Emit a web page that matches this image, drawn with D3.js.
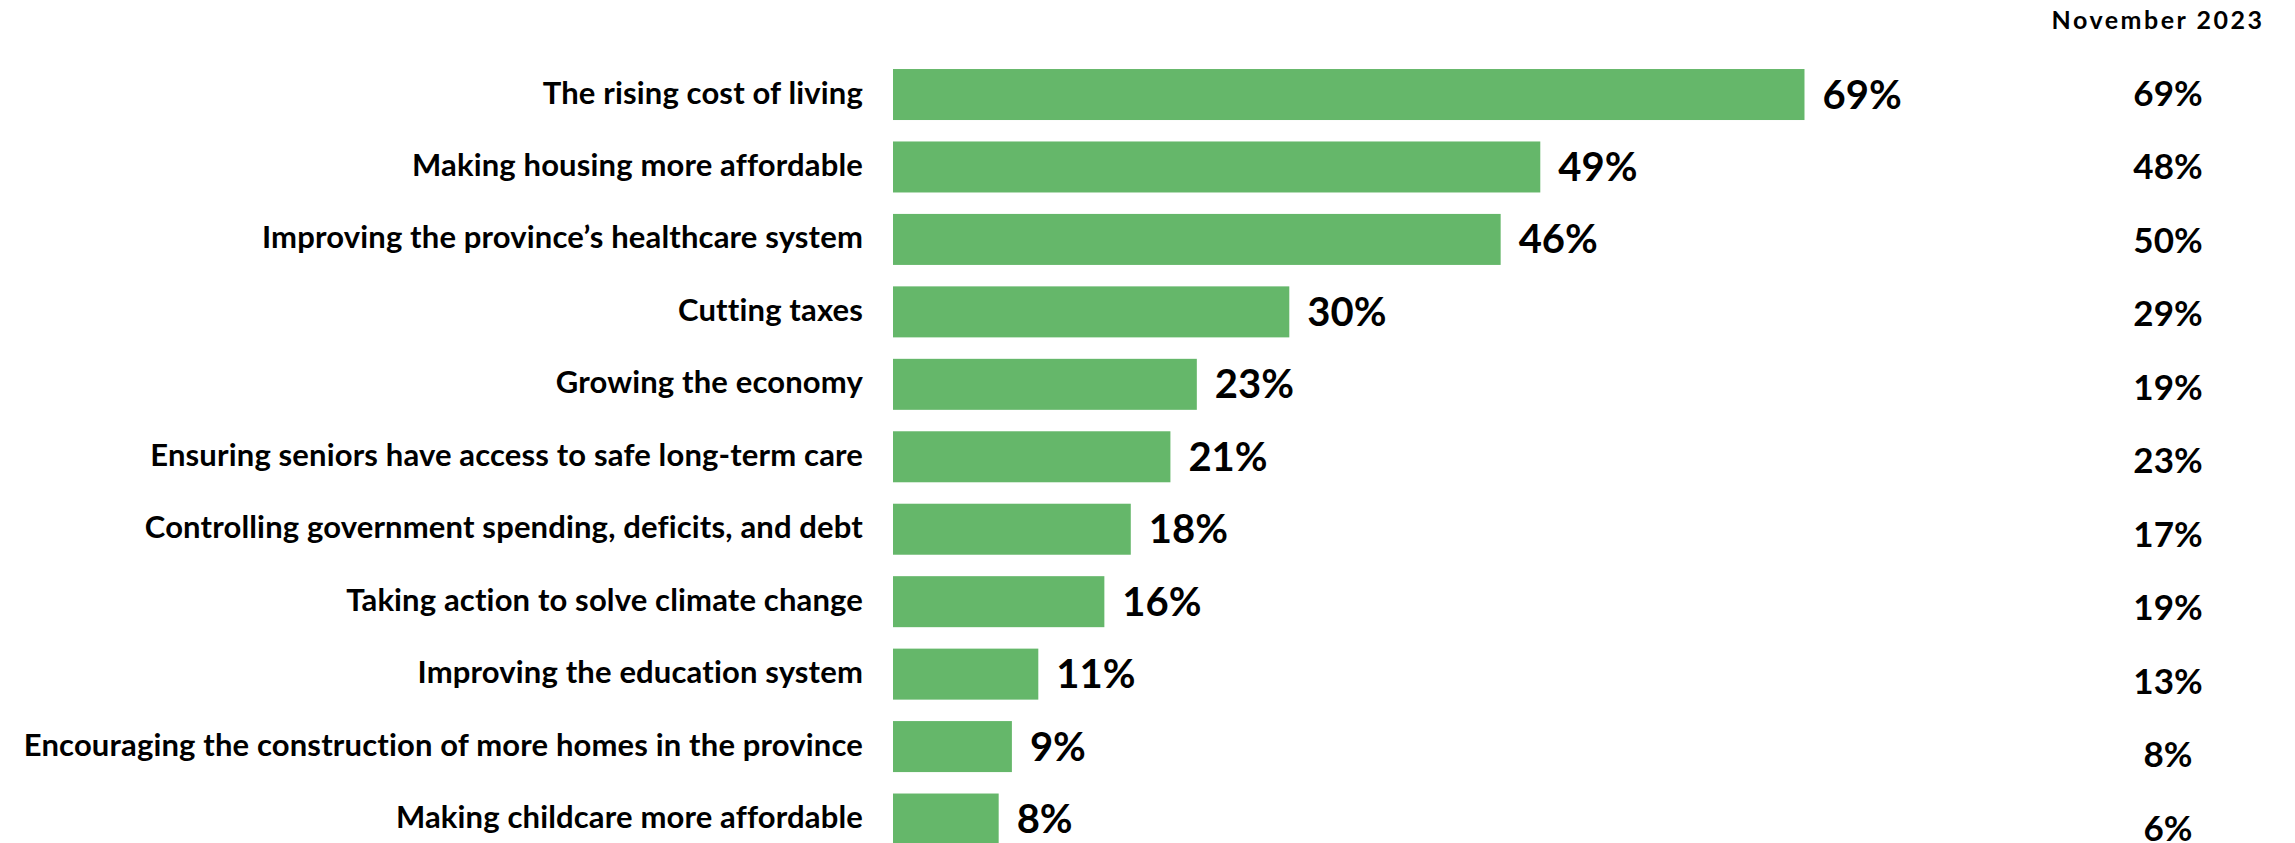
<!DOCTYPE html>
<html>
<head>
<meta charset="utf-8">
<script src="https://cdn.jsdelivr.net/npm/d3@7"></script>
<style>
  html, body { margin: 0; padding: 0; background: #ffffff; }
  svg { display: block; }
  text { font-family: Lato, "Open Sans", sans-serif; font-weight: 700; fill: #000; }
</style>
</head>
<body>
<svg id="chart" width="2295" height="843"></svg>
<script>
// Top provincial priorities: current share and November 2023 comparison
const categories = [
  "The rising cost of living",
  "Making housing more affordable",
  "Improving the province\u2019s healthcare system",
  "Cutting taxes",
  "Growing the economy",
  "Ensuring seniors have access to safe long-term care",
  "Controlling government spending, deficits, and debt",
  "Taking action to solve climate change",
  "Improving the education system",
  "Encouraging the construction of more homes in the province",
  "Making childcare more affordable"
];
const currentValues = [69, 49, 46, 30, 23, 21, 18, 16, 11, 9, 8];
const nov2023Values = [69, 48, 50, 29, 19, 23, 17, 19, 13, 8, 6];
const comparisonHeader = "November 2023";

const rows = categories.map((c, i) => ({ name: c, now: currentValues[i], prev: nov2023Values[i] }));

const svg = d3.select("#chart");

const barLeft = 893;
const x = d3.scaleLinear().domain([0, 100]).range([barLeft, barLeft + 1321]);

const step = 72.45;
const pad = 0.296;
const y = d3.scaleBand()
  .domain(categories)
  .range([58.3, 58.3 + step * categories.length])
  .paddingInner(pad)
  .paddingOuter(pad / 2);

const yRight = d3.scalePoint()
  .domain(categories)
  .range([93.4, 93.4 + 73.5 * (categories.length - 1)]);

// Bars
svg.append("g").selectAll("rect")
  .data(rows)
  .join("rect")
  .attr("x", x(0))
  .attr("y", d => y(d.name))
  .attr("width", d => x(d.now) - x(0))
  .attr("height", y.bandwidth())
  .attr("fill", "#65b76a");

// Category labels
svg.append("g").selectAll("text")
  .data(rows)
  .join("text")
  .attr("x", barLeft - 30)
  .attr("y", d => y(d.name) + y.bandwidth() / 2 + 9)
  .attr("text-anchor", "end")
  .attr("font-size", 31)
  .attr("letter-spacing", 0.15)
  .text(d => d.name);

// Value labels at bar ends
svg.append("g").selectAll("text")
  .data(rows)
  .join("text")
  .attr("x", d => x(d.now) + 18)
  .attr("y", d => y(d.name) + y.bandwidth() / 2 + 14)
  .attr("font-size", 40)
  .text(d => d.now + "%");

// Comparison column
svg.append("text")
  .attr("x", 2158)
  .attr("y", 29)
  .attr("text-anchor", "middle")
  .attr("font-size", 25)
  .attr("letter-spacing", 2.5)
  .text(comparisonHeader);

svg.append("g").selectAll("text")
  .data(rows)
  .join("text")
  .attr("x", 2168)
  .attr("y", d => yRight(d.name) + 12.5)
  .attr("text-anchor", "middle")
  .attr("font-size", 35)
  .text(d => d.prev + "%");
</script>
</body>
</html>
